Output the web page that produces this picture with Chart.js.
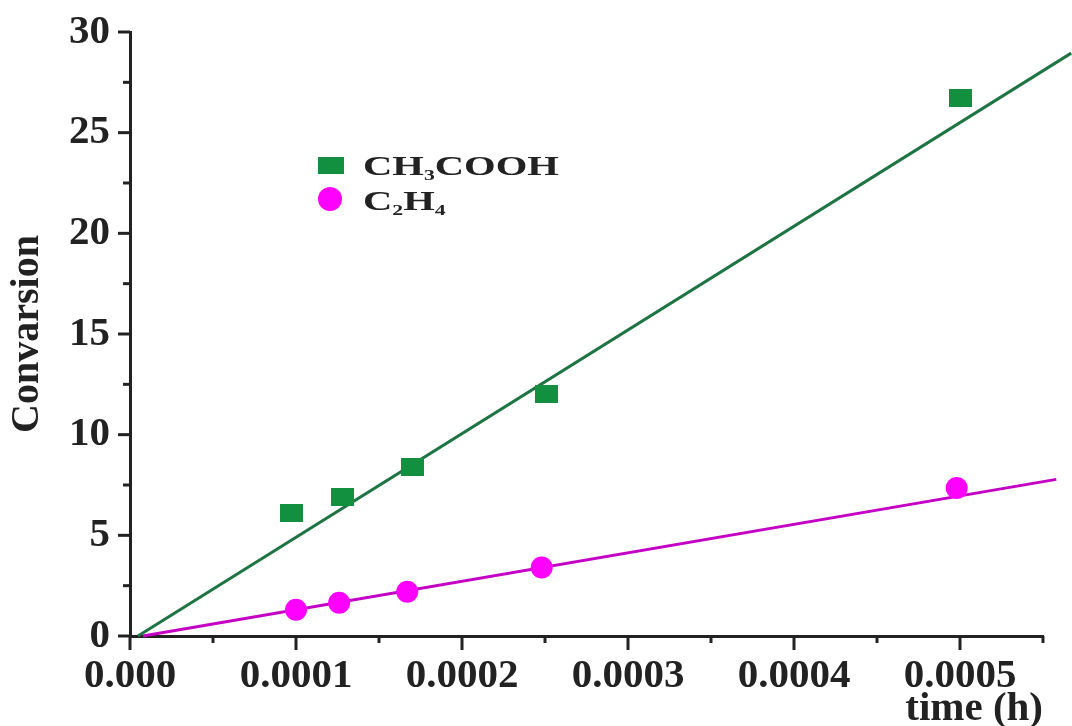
<!DOCTYPE html>
<html>
<head>
<meta charset="utf-8">
<script src="https://cdn.jsdelivr.net/npm/chart.js@4/dist/chart.umd.min.js"></script>
<style>
  html, body { margin: 0; padding: 0; background: #fff; }
  #wrap { width: 1072px; height: 726px; }
</style>
</head>
<body>
<div id="wrap"><canvas id="chart" width="1072" height="726"></canvas></div>
<script>
// measured points
const aceticTime = [0.0000975, 0.000128, 0.000170, 0.000251, 0.000500];
const aceticConv = [6.1, 6.9, 8.4, 12.0, 26.7];
const ethyleneTime = [0.000100, 0.000126, 0.000167, 0.000248, 0.000498];
const ethyleneConv = [1.3, 1.65, 2.2, 3.4, 7.35];

// linear fits (end points)
const aceticFitTime = [0.0000048, 0.000567];
const aceticFitConv = [0, 28.95];
const ethyleneFitTime = [0.0000078, 0.000558];
const ethyleneFitConv = [0, 7.78];

// legend text, pieces are [text, isSubscript]
const aceticLabel = [['CH', false], ['3', true], ['COOH', false]];
const ethyleneLabel = [['C', false], ['2', true], ['H', false], ['4', true]];

const xMin = 0, xMax = 0.00055, xStep = 0.00005;
const yMin = 0, yMax = 30, yStep = 2.5;

const green = '#12903f';
const greenLine = '#1f7444';
const magenta = '#ff00ff';
const magentaLine = '#c400c4';
const ink = '#222';
const serif = "'Liberation Serif', 'DejaVu Serif', serif";

function toPoints(xs, ys) {
  return xs.map((x, i) => ({ x: x, y: ys[i] }));
}

// slightly wide green square used for the markers
const squareMark = document.createElement('canvas');
squareMark.width = 23;
squareMark.height = 18;
const sq = squareMark.getContext('2d');
sq.fillStyle = green;
sq.fillRect(0, 0, 23, 18);

function isMajor(v, step) {
  return Math.round(v / step) % 2 === 0;
}

// major / minor tick marks drawn outside the axes
const tickMarks = {
  id: 'tickMarks',
  afterDraw(chart) {
    const ctx = chart.ctx;
    const xs = chart.scales.x, ys = chart.scales.y;
    const area = chart.chartArea;
    ctx.save();
    ctx.strokeStyle = ink;
    ctx.lineWidth = 3;
    ys.ticks.forEach(t => {
      const py = ys.getPixelForValue(t.value);
      const len = isMajor(t.value, yStep) ? 12 : 7;
      ctx.beginPath();
      ctx.moveTo(area.left - len, py);
      ctx.lineTo(area.left, py);
      ctx.stroke();
    });
    xs.ticks.forEach(t => {
      const px = xs.getPixelForValue(t.value);
      const len = isMajor(t.value, xStep) ? 14 : 7;
      ctx.beginPath();
      ctx.moveTo(px, area.bottom);
      ctx.lineTo(px, area.bottom + len);
      ctx.stroke();
    });
    ctx.restore();
  }
};

// legend with subscripts, drawn inside the plot
const chemLegend = {
  id: 'chemLegend',
  afterDatasetsDraw(chart) {
    const ctx = chart.ctx;
    ctx.save();
    const drawLabel = (parts, x, y) => {
      ctx.save();
      ctx.translate(x, y);
      ctx.scale(1.45, 1);
      ctx.fillStyle = ink;
      ctx.textBaseline = 'alphabetic';
      let cx = 0;
      parts.forEach(p => {
        ctx.font = p[1] ? 'bold 15px ' + serif : 'bold 28px ' + serif;
        ctx.fillText(p[0], cx, p[1] ? 5 : 0);
        cx += ctx.measureText(p[0]).width;
      });
      ctx.restore();
    };
    ctx.fillStyle = green;
    ctx.fillRect(318, 157, 26, 17);
    drawLabel(aceticLabel, 363, 175);
    ctx.fillStyle = magenta;
    ctx.beginPath();
    ctx.arc(330, 199, 12, 0, Math.PI * 2);
    ctx.fill();
    drawLabel(ethyleneLabel, 363, 210);
    ctx.restore();
  }
};

new Chart(document.getElementById('chart').getContext('2d'), {
  type: 'scatter',
  data: {
    datasets: [
      {
        label: 'CH3COOH',
        data: toPoints(aceticTime, aceticConv),
        pointStyle: squareMark,
        backgroundColor: green,
        borderColor: green,
        showLine: false,
        order: 0
      },
      {
        label: 'C2H4',
        data: toPoints(ethyleneTime, ethyleneConv),
        pointStyle: 'circle',
        pointRadius: 11,
        backgroundColor: magenta,
        borderColor: magenta,
        borderWidth: 0,
        showLine: false,
        order: 0
      },
      {
        label: 'CH3COOH fit',
        data: toPoints(aceticFitTime, aceticFitConv),
        showLine: true,
        pointRadius: 0,
        borderColor: greenLine,
        borderWidth: 3,
        clip: false,
        order: 1
      },
      {
        label: 'C2H4 fit',
        data: toPoints(ethyleneFitTime, ethyleneFitConv),
        showLine: true,
        pointRadius: 0,
        borderColor: magentaLine,
        borderWidth: 3,
        clip: false,
        order: 1
      }
    ]
  },
  options: {
    responsive: false,
    animation: false,
    layout: { padding: { top: 32, right: 29, left: 0, bottom: 0 } },
    plugins: {
      legend: { display: false },
      tooltip: { enabled: false }
    },
    scales: {
      x: {
        type: 'linear',
        min: xMin,
        max: xMax,
        grid: { display: false, drawTicks: false },
        border: { display: true, color: ink, width: 3 },
        ticks: {
          stepSize: xStep,
          autoSkip: false,
          maxRotation: 0,
          padding: 16,
          color: ink,
          font: { family: serif, size: 41, weight: 'bold' },
          callback: v => {
            if (!isMajor(v, xStep)) return '';
            return Math.abs(v) < 1e-12 ? '0.000' : v.toFixed(4);
          }
        },
        title: {
          display: true,
          text: 'time (h)',
          align: 'end',
          color: ink,
          font: { family: serif, size: 41, weight: 'bold', lineHeight: 0.8 },
          padding: { top: 0, bottom: 0 }
        },
        afterFit: scale => { scale.height = 90; }
      },
      y: {
        type: 'linear',
        min: yMin,
        max: yMax,
        grid: { display: false, drawTicks: false },
        border: { display: true, color: ink, width: 3 },
        ticks: {
          stepSize: yStep,
          autoSkip: false,
          padding: 20,
          color: ink,
          font: { family: serif, size: 41, weight: 'bold', lineHeight: 0.5 },
          callback: v => isMajor(v, yStep) ? String(Math.round(v)) : ''
        },
        title: {
          display: true,
          text: 'Convarsion',
          color: ink,
          font: { family: serif, size: 40, weight: 'bold', lineHeight: 1 },
          padding: { top: 8, bottom: 0 }
        },
        afterFit: scale => { scale.width = 130; }
      }
    }
  },
  plugins: [tickMarks, chemLegend]
});
</script>
</body>
</html>
